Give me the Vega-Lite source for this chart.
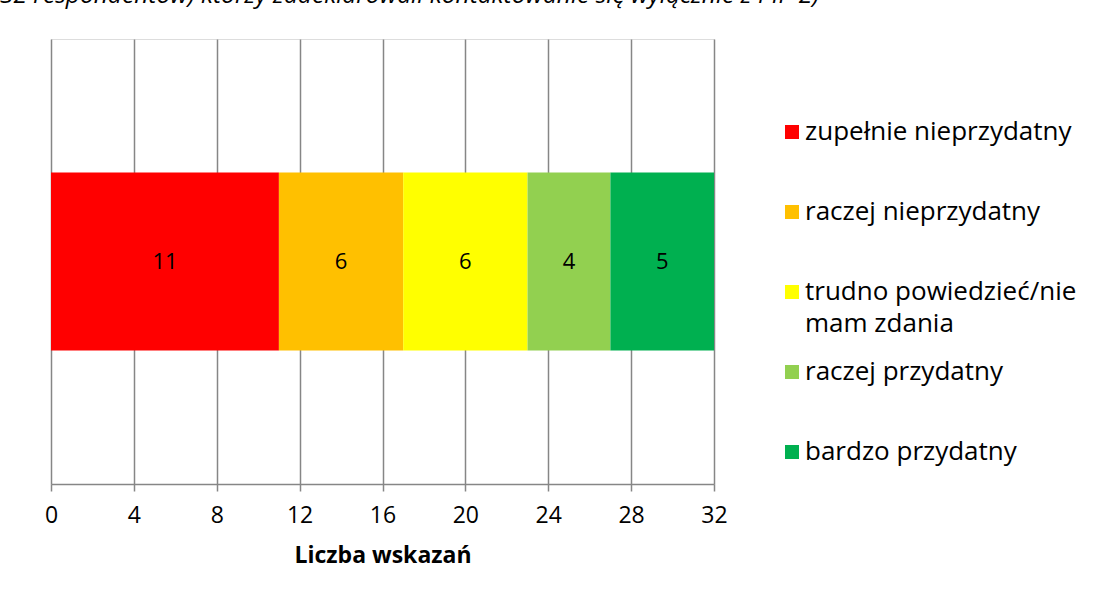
{
  "$schema": "https://vega.github.io/schema/vega-lite/v6.json",
  "autosize": {"type": "none"},
  "width": 663,
  "height": 445,
  "padding": {"left": 51, "top": 39, "right": 389, "bottom": 114},
  "background": "white",
  "title": {
    "text": "32 respondentów) którzy zadeklarowali kontaktowanie się wyłącznie z PIP 2)",
    "anchor": "start",
    "frame": "group",
    "dx": -51,
    "offset": 31,
    "font": "Open Sans",
    "fontSize": 24.5,
    "fontStyle": "italic",
    "fontWeight": "normal",
    "color": "#000000"
  },
  "data": {
    "values": [
      {"grupa": "PIP", "ocena": "zupełnie nieprzydatny", "kolejnosc": 1, "liczba": 11},
      {"grupa": "PIP", "ocena": "raczej nieprzydatny", "kolejnosc": 2, "liczba": 6},
      {"grupa": "PIP", "ocena": "trudno powiedzieć/nie mam zdania", "kolejnosc": 3, "liczba": 6},
      {"grupa": "PIP", "ocena": "raczej przydatny", "kolejnosc": 4, "liczba": 4},
      {"grupa": "PIP", "ocena": "bardzo przydatny", "kolejnosc": 5, "liczba": 5}
    ]
  },
  "encoding": {
    "y": {
      "field": "grupa",
      "type": "nominal",
      "axis": null,
      "scale": {"paddingInner": 0, "paddingOuter": 0.75}
    }
  },
  "layer": [
    {
      "mark": {"type": "bar"},
      "encoding": {
        "x": {
          "field": "liczba",
          "type": "quantitative",
          "stack": "zero",
          "scale": {"domain": [0, 32], "nice": false},
          "axis": {
            "values": [0, 4, 8, 12, 16, 20, 24, 28, 32],
            "title": "Liczba wskazań",
            "grid": true,
            "gridColor": "#868686",
            "gridWidth": 1.5,
            "domainColor": "#868686",
            "domainWidth": 1.5,
            "tickColor": "#868686",
            "tickWidth": 1.5,
            "tickSize": 7,
            "labelFont": "Open Sans",
            "labelFontSize": 23,
            "labelColor": "#000000",
            "labelPadding": 13,
            "labelFlush": false,
            "titleFont": "Open Sans",
            "titleFontSize": 23,
            "titleFontWeight": "bold",
            "titleColor": "#000000",
            "titlePadding": 17
          }
        },
        "order": {"field": "kolejnosc", "type": "quantitative"},
        "color": {
          "field": "ocena",
          "type": "nominal",
          "sort": ["zupełnie nieprzydatny", "raczej nieprzydatny", "trudno powiedzieć/nie mam zdania", "raczej przydatny", "bardzo przydatny"],
          "scale": {
            "domain": ["zupełnie nieprzydatny", "raczej nieprzydatny", "trudno powiedzieć/nie mam zdania", "raczej przydatny", "bardzo przydatny"],
            "range": ["#FF0000", "#FFC000", "#FFFF00", "#92D050", "#00B050"]
          },
          "legend": {
            "title": null,
            "orient": "none",
            "legendX": 728,
            "legendY": 80,
            "columns": 1,
            "gridAlign": "all",
            "symbolType": "square",
            "symbolSize": 196,
            "symbolStrokeWidth": 0,
            "symbolOpacity": 1,
            "labelFont": "Open Sans",
            "labelFontSize": 26,
            "labelColor": "#000000",
            "labelOffset": 0,
            "labelLimit": 400,
            "rowPadding": 22,
            "labelExpr": "datum.label == 'trudno powiedzieć/nie mam zdania' ? ['trudno powiedzieć/nie', 'mam zdania'] : datum.label",
            "encode": {"labels": {"update": {"lineHeight": {"value": 32}}}}
          }
        }
      }
    },
    {
      "mark": {"type": "text", "font": "Open Sans", "fontSize": 22, "color": "#000000"},
      "encoding": {
        "x": {"field": "liczba", "type": "quantitative", "stack": "zero", "bandPosition": 0.5},
        "order": {"field": "kolejnosc", "type": "quantitative"},
        "detail": {"field": "ocena", "type": "nominal"},
        "text": {"field": "liczba", "type": "quantitative"}
      }
    }
  ]
}
